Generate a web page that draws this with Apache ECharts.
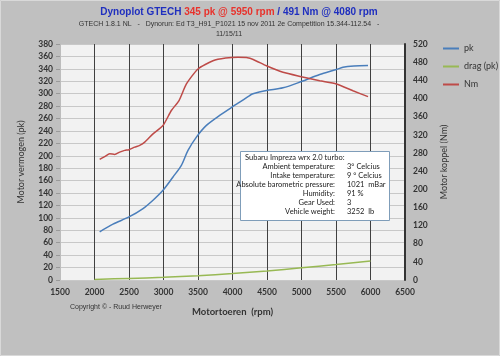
<!DOCTYPE html>
<html><head><meta charset="utf-8">
<script src="https://cdn.jsdelivr.net/npm/echarts@6/dist/echarts.min.js"></script>
<style>html,body{margin:0;padding:0;background:#c0c0c0}#c{width:500px;height:356px}</style>
</head><body><div id="c"></div>
<script>
// ---- data ----
const pkRpm = [2075, 2268, 2500, 2703, 2848, 2993, 3138, 3259, 3355, 3477, 3622, 3814, 4007, 4104, 4249, 4297, 4491, 4732, 4998, 5264, 5506, 5601, 5760, 5964];
const pkVal = [77.6, 89.9, 101.6, 115.1, 128.5, 144.5, 165.9, 184.6, 208.7, 230.1, 248.9, 265, 279.4, 286.3, 297, 299.8, 305, 309.4, 319.5, 330.8, 338.8, 342.5, 344.5, 345.2];

const nmRpm = [2075, 2148, 2220, 2293, 2365, 2438, 2500, 2583, 2655, 2728, 2848, 2993, 3114, 3225, 3332, 3500, 3717, 3900, 4080, 4201, 4300, 4491, 4732, 4998, 5264, 5506, 5746, 5964];
const nmVal = [265.8, 272, 278, 276.8, 281.8, 285.6, 287, 292.8, 296.6, 303.8, 322, 340.5, 373.5, 395.4, 432, 465, 483, 489, 491, 490, 486, 472, 457.6, 448, 439, 432, 417, 404];

const dragRpm = [2000, 2500, 3000, 3500, 4000, 4500, 5000, 5500, 6000];
const dragVal = [1, 2.5, 4.3, 6.9, 10.5, 14.5, 19.6, 24.8, 30.5];

const xTicks = {min: 1500, max: 6500, step: 500};
const leftTicks = {min: 0, max: 380, step: 20};
const rightTicks = {min: 0, max: 520, step: 40};

const titleParts = [['Dynoplot GTECH ', '#1f2fbf'], ['345 pk @ 5950 rpm', '#e8322c'], [' / 491 Nm @ 4080 rpm', '#1f2fbf']];
const infoLabels = ['Ambient temperature:', 'Intake temperature:', 'Absolute barometric pressure:', 'Humidity:', 'Gear Used:', 'Vehicle weight:'];
const infoValues = ['3\u00B0 Celcius', '9 \u00B0 Celcius', '1021  mBar', '91 %', '3', '3252  lb'];

const zip = (a, b) => a.map((v, i) => [v, b[i]]);

const chart = echarts.init(document.getElementById('c'), null, {renderer: 'canvas'});
const F = 'Lato';
const tickLabel = {color: '#333', fontSize: 8.5, fontWeight: 'bold', fontFamily: F};
const small = '7px "Liberation Sans", Arial, sans-serif';
const titleFont = 'bold 10px "Liberation Sans", Arial, sans-serif';
const infoFont = '7.5px Lato, sans-serif';

// title pieces positioned by measured width
const ctx = document.createElement('canvas').getContext('2d');
ctx.font = titleFont;
const widths = titleParts.map(p => ctx.measureText(p[0]).width);
let tx = 239 - widths.reduce((a, b) => a + b, 0) / 2;

const graphics = [
  {type: 'rect', shape: {x: 0.5, y: 0.5, width: 499, height: 355}, style: {fill: 'none', stroke: '#d9d9d9', lineWidth: 1}, silent: true},
  {type: 'text', position: [229, 21], style: {text: 'GTECH 1.8.1 NL   -   Dynorun: Ed T3_H91_P1021 15 nov 2011 2e Competition 15.344-112.54   -', fill: '#333', font: small, textAlign: 'center'}, silent: true},
  {type: 'text', position: [229, 31], style: {text: '11/15/11', fill: '#333', font: small, textAlign: 'center'}, silent: true},
  {type: 'text', position: [70, 304], style: {text: 'Copyright \u00A9 - Ruud Herweyer', fill: '#333', font: small}, silent: true},
  {type: 'rect', shape: {x: 240.5, y: 151.5, width: 149, height: 69}, style: {fill: '#ffffff', stroke: '#7f9db9', lineWidth: 1}, z: 100, silent: true},
  {type: 'text', position: [245, 154], style: {text: 'Subaru Impreza wrx 2.0 turbo:', fill: '#222', font: infoFont}, z: 101, silent: true}
];
titleParts.forEach((p, i) => {
  graphics.push({type: 'text', position: [tx, 7], style: {text: p[0], fill: p[1], font: titleFont}, silent: true});
  tx += widths[i];
});
infoLabels.forEach((t, i) => {
  graphics.push({type: 'text', position: [335, 163 + i * 8.9], style: {text: t, fill: '#222', font: infoFont, textAlign: 'right'}, z: 101, silent: true});
  graphics.push({type: 'text', position: [347, 163 + i * 8.9], style: {text: infoValues[i], fill: '#222', font: infoFont}, z: 101, silent: true});
});

chart.setOption({
  backgroundColor: '#c0c0c0',
  animation: false,
  legend: {
    orient: 'vertical', left: 438, top: 39, itemGap: 9, itemWidth: 16, itemHeight: 2, icon: 'rect',
    textStyle: {color: '#333', fontSize: 9, fontFamily: F},
    data: ['pk', 'drag (pk)', 'Nm']
  },
  grid: {left: 60, right: 95, top: 44, bottom: 76, show: true, backgroundColor: '#f2f2f2', borderWidth: 0},
  xAxis: {
    type: 'value', min: xTicks.min, max: xTicks.max, interval: xTicks.step,
    name: 'Motortoeren  (rpm)', nameLocation: 'middle', nameGap: 27,
    nameTextStyle: {color: '#333', fontSize: 9.5, fontWeight: 'bold', fontFamily: F},
    axisLine: {show: false}, axisTick: {show: false},
    axisLabel: Object.assign({margin: 8, formatter: v => String(v)}, tickLabel),
    splitLine: {show: true, showMinLine: false, lineStyle: {color: '#404040', width: 1}}
  },
  yAxis: [{
    type: 'value', min: leftTicks.min, max: leftTicks.max, interval: leftTicks.step,
    name: 'Motor vermogen (pk)', nameLocation: 'middle', nameGap: 34, nameRotate: 90,
    nameTextStyle: {color: '#333', fontSize: 9, fontFamily: F},
    axisLine: {show: true, lineStyle: {color: '#bdbdbd'}},
    axisTick: {show: true, length: 4, lineStyle: {color: '#999'}},
    axisLabel: Object.assign({margin: 7, formatter: v => String(v)}, tickLabel),
    splitLine: {show: true, lineStyle: {color: '#c8c8c8', width: 1}}
  }, {
    type: 'value', position: 'right', min: rightTicks.min, max: rightTicks.max, interval: rightTicks.step,
    name: 'Motor koppel (Nm)', nameLocation: 'middle', nameGap: 35, nameRotate: 90,
    nameTextStyle: {color: '#333', fontSize: 9, fontFamily: F},
    axisLine: {show: true, lineStyle: {color: '#333', width: 2}},
    axisTick: {show: false},
    axisLabel: Object.assign({margin: 8, formatter: v => String(v)}, tickLabel),
    splitLine: {show: false}
  }],
  series: [
    {name: 'pk', type: 'line', yAxisIndex: 0, data: zip(pkRpm, pkVal), showSymbol: false, smooth: 0.3,
     lineStyle: {color: '#4a7ebb', width: 1.5}, itemStyle: {color: '#4a7ebb'}},
    {name: 'drag (pk)', type: 'line', yAxisIndex: 0, data: zip(dragRpm, dragVal), showSymbol: false, smooth: 0.3,
     lineStyle: {color: '#98b954', width: 1.5}, itemStyle: {color: '#98b954'}},
    {name: 'Nm', type: 'line', yAxisIndex: 1, data: zip(nmRpm, nmVal), showSymbol: false, smooth: 0.2,
     lineStyle: {color: '#be4b48', width: 1.5}, itemStyle: {color: '#be4b48'}}
  ],
  graphic: graphics
});
</script></body></html>
